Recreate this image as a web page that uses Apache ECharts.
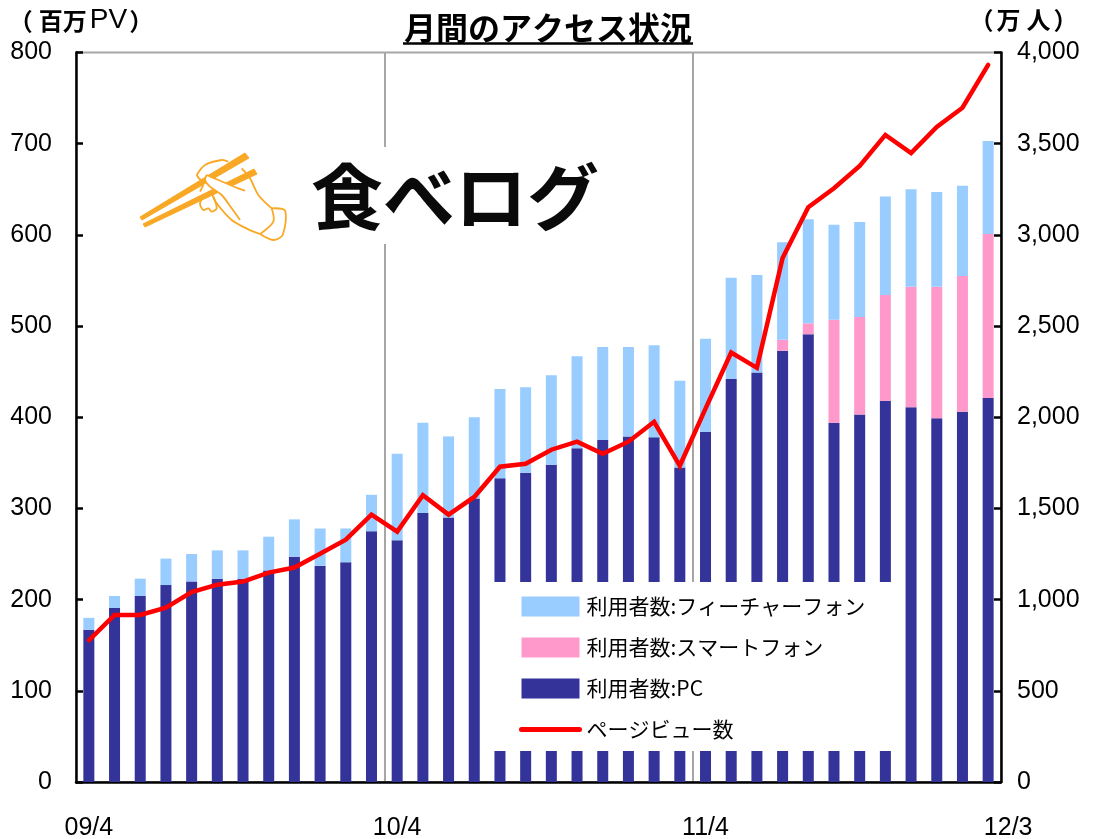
<!DOCTYPE html>
<html><head><meta charset="utf-8">
<style>html,body{margin:0;padding:0;background:#fff}#c{width:1093px;height:839px}</style>
<script src="https://cdn.jsdelivr.net/npm/echarts@6/dist/echarts.min.js"></script>
</head><body><div id="c"></div>
<script>
const months = ['09/4','09/5','09/6','09/7','09/8','09/9','09/10','09/11','09/12','10/1','10/2','10/3',
 '10/4','10/5','10/6','10/7','10/8','10/9','10/10','10/11','10/12','11/1','11/2','11/3',
 '11/4','11/5','11/6','11/7','11/8','11/9','11/10','11/11','11/12','12/1','12/2','12/3'];
const shownLabels = ['09/4','10/4','11/4','12/3'];
const pc = [167,191,204,216,220,223,223,232,247,237,241,275,265,295,290,311,333,339,348,366,375,379,378,345,384,442,449,473,491,394,403,418,411,399,406,421];
const smart = [0,0,0,0,0,0,0,0,0,0,0,0,0,0,0,0,0,0,0,0,0,0,0,0,0,0,0,12,12,113,107,116,132,144,149,180];
const feature = [13,13,19,29,30,31,31,37,41,41,37,40,95,99,89,89,98,94,98,101,102,98,101,95,102,111,107,107,114,104,104,108,107,104,99,102];
const pageViews = [777,916,916,956,1042,1082,1099,1148,1176,1252,1329,1466,1373,1572,1466,1563,1729,1745,1822,1866,1800,1866,1975,1734,2047,2355,2271,2873,3152,3256,3378,3548,3449,3592,3697,3932];
const FN = '"Liberation Sans",sans-serif';
const CJK = '"Noto Sans CJK JP",sans-serif';
const handStrokes = [
 [[215,105],[240,75],[290,60],[310,65]],
 [[215,105],[225,118],[242,120]],
 [[245,105],[280,120],[340,145],[360,152]],
 [[245,105],[240,120],[255,140],[290,165],[320,205],[345,240]],
 [[350,85],[375,115],[400,165],[440,205]],
 [[440,205],[480,212],[473,285],[445,300],[405,282]],
 [[440,205],[445,245],[405,282]],
 [[405,282],[370,268],[320,240],[275,190],[260,160]],
 [[240,165],[225,190],[235,210],[250,205],[260,215],[275,205],[265,170]],
 [[225,155],[235,135]]
];
const toLogo = (pts)=>pts.map(([x,y])=>[125+x/3,140+y/3]);
const handEls = handStrokes.map(s=>({type:'polyline',z:33,shape:{points:toLogo(s),smooth:0.3},style:{fill:null,stroke:'#f9a825',lineWidth:1.8}}));
const chart = echarts.init(document.getElementById('c'), null, {renderer:'canvas'});
const tickLabel = {color:'#000',fontFamily:FN,fontSize:25};
chart.setOption({
  animation:false,
  title:{text:'月間のアクセス状況',left:548,textAlign:'center',top:12,textStyle:{fontFamily:CJK,fontSize:32,fontWeight:'bold',color:'#000'},padding:0},
  grid:{left:76,right:92,top:52.5,bottom:57,show:true,borderColor:'#a6a6a6',borderWidth:2,backgroundColor:'#fff',outerBoundsMode:'none'},
  legend:{
    left:491,top:582,orient:'vertical',padding:[14,38,11,28],backgroundColor:'#fff',z:20,
    itemWidth:58,itemHeight:20,itemGap:20,
    textStyle:{fontFamily:CJK,fontSize:21,color:'#000',padding:[0,0,0,2]},
    data:[
      {name:'利用者数:フィーチャーフォン',icon:'rect'},
      {name:'利用者数:スマートフォン',icon:'rect'},
      {name:'利用者数:PC',icon:'rect'},
      {name:'ページビュー数',itemStyle:{opacity:0},lineStyle:{color:'#ff0000',width:5,cap:'round'}}
    ]
  },
  xAxis:{type:'category',data:months,
    axisLine:{lineStyle:{color:'#000',width:2.5}},axisTick:{show:false},
    splitLine:{show:true,interval:(i)=>i===12||i===24,lineStyle:{color:'#a6a6a6',width:2}},
    axisLabel:{interval:0,margin:34,color:'#000',fontFamily:FN,fontSize:25,
      formatter:(v)=>shownLabels.includes(v)?(v==='12/3'?'{last|'+v+'}':v):'',
      rich:{last:{fontFamily:FN,fontSize:25,color:'#000',padding:[0,0,6,40]}}}
  },
  yAxis:[
   {type:'value',min:0,max:800,interval:100,splitLine:{show:false},
    name:'{a|（}{c|百万}{b|PV}{d|）}',nameLocation:'end',nameGap:18,
    nameTextStyle:{padding:[0,0,0,10],rich:{
      a:{fontFamily:CJK,fontWeight:'bold',fontSize:24,color:'#000'},
      c:{fontFamily:CJK,fontWeight:'bold',fontSize:24,color:'#000',padding:[0,3,0,6]},
      d:{fontFamily:CJK,fontWeight:'bold',fontSize:24,color:'#000',padding:[0,0,0,2]},
      b:{fontFamily:FN,fontSize:28,color:'#000'}}},
    axisLine:{show:true,lineStyle:{color:'#000',width:2.5}},axisTick:{show:true,inside:true,length:7,lineStyle:{color:'#000',width:2.5}},
    axisLabel:Object.assign({margin:24},tickLabel)},
   {type:'value',min:0,max:4000,interval:500,splitLine:{show:false},
    name:'{a|（}{c|万}{c|人}{a|）}',nameLocation:'end',nameGap:21,
    nameTextStyle:{padding:[0,0,0,45],rich:{
      a:{fontFamily:CJK,fontWeight:'bold',fontSize:24,color:'#000'},
      c:{fontFamily:CJK,fontWeight:'bold',fontSize:24,color:'#000',padding:[0,3,0,3]}}},
    axisLine:{show:true,lineStyle:{color:'#000',width:2.5}},axisTick:{show:true,inside:true,length:7,lineStyle:{color:'#000',width:2.5}},
    axisLabel:Object.assign({margin:16,formatter:(v)=>v.toLocaleString('en-US')},tickLabel)}
  ],
  series:[
   {name:'利用者数:PC',type:'bar',stack:'u',barWidth:11,data:pc,itemStyle:{color:'#333399'}},
   {name:'利用者数:スマートフォン',type:'bar',stack:'u',barWidth:11,data:smart,itemStyle:{color:'#ff99cc'}},
   {name:'利用者数:フィーチャーフォン',type:'bar',stack:'u',barWidth:11,data:feature,itemStyle:{color:'#99ccff'}},
   {name:'ページビュー数',type:'line',yAxisIndex:1,data:pageViews,symbol:'none',z:5,itemStyle:{color:'#ff0000'},lineStyle:{color:'#ff0000',width:4.5,cap:'round',join:'miter'}}
  ],
  graphic:[
   {type:'line',z:30,shape:{x1:403,y1:43.5,x2:693,y2:43.5},style:{stroke:'#000',lineWidth:2.5}},
   {type:'rect',z:30,shape:{x:127,y:147,width:480,height:97},style:{fill:'#fff'}},
   {type:'text',z:31,x:311,y:161,style:{text:'食べログ',fontFamily:CJK,fontWeight:'bold',fontSize:72,fill:'#0a0a0a'}},
   {type:'polygon',z:31,shape:{points:[[140,217],[142,220],[249,158],[245,153]]},style:{fill:'#f9a825',stroke:'#f9a825',lineWidth:1,lineJoin:'round'}},
   {type:'polygon',z:31,shape:{points:[[143,224],[145,227],[257,174],[254,169]]},style:{fill:'#f9a825',stroke:'#f9a825',lineWidth:1,lineJoin:'round'}},
   {type:'polygon',z:32,shape:{points:toLogo([[245,105],[280,120],[360,152],[340,160],[300,175],[255,140],[240,120]])},style:{fill:'#fff'}}
  ].concat(handEls)
});
</script></body></html>
